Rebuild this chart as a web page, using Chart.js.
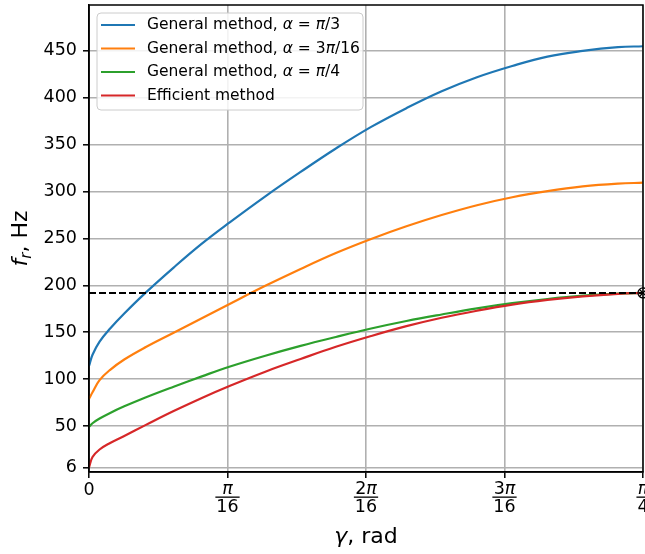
<!DOCTYPE html>
<html>
<head>
<meta charset="utf-8">
<script src="https://cdn.jsdelivr.net/npm/chart.js@4"></script>
<style>
  body { margin: 0; background: #fff; }
  #grafico { display: block; }
</style>
</head>
<body>
<canvas id="grafico" width="645" height="554" style="width:645px;height:554px"></canvas>
<script>
// datos (gamma en rad, f_r en Hz)
const gamma = [0, 0.005, 0.015, 0.03, 0.05, 0.08, 0.12, 0.16, 0.2, 0.25, 0.3, 0.35,
  0.4, 0.45, 0.5, 0.55, 0.6, 0.65, 0.7, 0.75, Math.PI / 4];
const fPi3 = [114, 126, 140, 154, 170, 192, 219, 244.5, 267.5, 295, 321, 346,
  369, 389, 407, 422, 434, 444, 450, 454, 455];
const f3Pi16 = [79, 86, 99, 110, 121, 134, 149.5, 165, 180.5, 199.5, 217.5, 234.5,
  249.5, 263, 275, 285.5, 294, 300.5, 305.5, 308.5, 309.5];
const fPi4 = [49, 53, 58, 64, 71, 80.5, 92, 103, 113.5, 125, 135.5, 145,
  154, 162, 169, 175.5, 181, 185.5, 189, 191.2, 192];
const fEficiente = [6, 17, 25, 32, 39.5, 51, 66, 80, 93, 108, 121.5, 134.5,
  146, 156.5, 165.5, 173, 179.5, 184.5, 188.3, 191, 192];
const fLimite = 192;
const yTicks = [6, 50, 100, 150, 200, 250, 300, 350, 400, 450];
const xTicksK = [0, 1, 2, 3, 4]; // multiplos de pi/16

const colores = ["#1f77b4", "#ff7f0e", "#2ca02c", "#d62728"];
const etiquetas = [
  [["General method, ", 0], ["α", 1], [" = ", 0], ["π", 1], ["/3", 0]],
  [["General method, ", 0], ["α", 1], [" = 3", 0], ["π", 1], ["/16", 0]],
  [["General method, ", 0], ["α", 1], [" = ", 0], ["π", 1], ["/4", 0]],
  [["Efficient method", 0]]
];

const FUENTE = "'DejaVu Sans'";

function puntos(vals) {
  return gamma.map((g, i) => ({ x: g, y: vals[i] }));
}

// dibuja texto con partes en cursiva / subindice
function textoMixto(ctx, partes, x, y, size, align) {
  let ancho = 0;
  partes.forEach(p => {
    const s = p[2] ? size * 0.7 : size;
    ctx.font = (p[1] ? "italic " : "") + s + "px " + FUENTE;
    ancho += ctx.measureText(p[0]).width;
  });
  let cx = align === "center" ? x - ancho / 2 : x;
  ctx.textAlign = "left";
  partes.forEach(p => {
    const s = p[2] ? size * 0.7 : size;
    ctx.font = (p[1] ? "italic " : "") + s + "px " + FUENTE;
    ctx.fillText(p[0], cx, y + (p[2] ? size * 0.25 : 0));
    cx += ctx.measureText(p[0]).width;
  });
  return ancho;
}

function sinPadding(s) {
  s.paddingTop = 0;
  s.paddingBottom = 0;
  s.paddingLeft = 0;
  s.paddingRight = 0;
}

const extras = {
  id: "extras",
  afterDatasetsDraw(chart) {
    const { ctx, chartArea: a } = chart;
    ctx.save();
    ctx.strokeStyle = "#000";
    ctx.lineWidth = 1.5;
    ctx.strokeRect(a.left, a.top, a.right - a.left, a.bottom - a.top);
    ctx.restore();
  },
  afterDraw(chart) {
    const { ctx, chartArea: a } = chart;
    const xs = chart.scales.x;
    ctx.save();
    ctx.fillStyle = "#000";
    ctx.textBaseline = "middle";

    // etiquetas del eje x como fracciones
    xTicksK.forEach(k => {
      const px = xs.getPixelForValue(k * Math.PI / 16);
      if (k === 0) {
        textoMixto(ctx, [["0", 0]], px, 490, 17.5, "center");
        return;
      }
      const num = k === 1 || k === 4 ? [["π", 1]] : [[String(k), 0], ["π", 1]];
      const den = k === 4 ? "4" : "16";
      textoMixto(ctx, num, px, 489, 17.5, "center");
      ctx.font = "17.5px " + FUENTE;
      const w = ctx.measureText(den).width;
      textoMixto(ctx, [[den, 0]], px, 507, 17.5, "center");
      ctx.fillRect(px - w / 2 - 1, 496.5, w + 2, 1.3);
    });

    // titulos de ejes
    textoMixto(ctx, [["γ", 1], [", rad", 0]], (a.left + a.right) / 2, 537, 22, "center");
    ctx.save();
    ctx.translate(21, (a.top + a.bottom) / 2);
    ctx.rotate(-Math.PI / 2);
    textoMixto(ctx, [["f", 1], ["r", 1, 1], [", Hz", 0]], 0, 0, 22, "center");
    ctx.restore();

    // leyenda
    const lx = 97, ly = 13, lw = 266, lh = 97, r = 4;
    ctx.beginPath();
    ctx.roundRect(lx, ly, lw, lh, r);
    ctx.fillStyle = "rgba(255,255,255,0.85)";
    ctx.fill();
    ctx.strokeStyle = "#cccccc";
    ctx.lineWidth = 1;
    ctx.stroke();
    etiquetas.forEach((partes, i) => {
      const cy = 25 + i * 23.5;
      ctx.strokeStyle = colores[i];
      ctx.lineWidth = 2.2;
      ctx.beginPath();
      ctx.moveTo(101, cy);
      ctx.lineTo(135, cy);
      ctx.stroke();
      ctx.fillStyle = "#000";
      textoMixto(ctx, partes, 147, cy, 15.5, "left");
    });
    ctx.restore();
  }
};

const ctx = document.getElementById("grafico").getContext("2d");

const series = [fPi3, f3Pi16, fPi4, fEficiente];
const datasets = series.map((vals, i) => ({
  label: etiquetas[i].map(p => p[0]).join(""),
  data: puntos(vals),
  borderColor: colores[i],
  borderWidth: 2.2,
  pointRadius: 0,
  tension: 0.4,
  order: 4 - i
}));

datasets.push({
  label: "limite",
  data: [{ x: 0, y: fLimite }, { x: Math.PI / 4, y: fLimite }],
  borderColor: "#000",
  borderWidth: 2,
  borderDash: [7, 3],
  pointRadius: 0,
  order: 0
});
datasets.push({
  label: "punto",
  data: [{ x: Math.PI / 4, y: fLimite }],
  showLine: false,
  pointStyle: "circle",
  pointRadius: 5,
  pointBorderWidth: 1.3,
  pointBorderColor: "#000",
  pointBackgroundColor: "rgba(0,0,0,0)",
  clip: false,
  order: 0
});
datasets.push({
  label: "cruz",
  data: [{ x: Math.PI / 4, y: fLimite }],
  showLine: false,
  pointStyle: "crossRot",
  pointRadius: 5,
  pointBorderWidth: 1.3,
  pointBorderColor: "#000",
  clip: false,
  order: 0
});

new Chart(ctx, {
  type: "line",
  data: { datasets },
  options: {
    responsive: false,
    animation: false,
    devicePixelRatio: 1,
    layout: { autoPadding: false, padding: { left: 0, right: 2, top: 5, bottom: 0 } },
    plugins: { legend: { display: false }, tooltip: { enabled: false } },
    scales: {
      x: {
        type: "linear",
        min: 0,
        max: Math.PI / 4,
        afterBuildTicks: s => { s.ticks = xTicksK.map(k => ({ value: k * Math.PI / 16 })); },
        afterFit: s => { s.height = 82; sinPadding(s); },
        ticks: { display: false },
        grid: { color: "#b0b0b0", lineWidth: 1.6, tickColor: "#000", tickLength: 6, tickWidth: 1.5 },
        border: { display: true, color: "#000", width: 1.5 }
      },
      y: {
        min: 1,
        max: 499,
        afterBuildTicks: s => { s.ticks = yTicks.map(v => ({ value: v })); },
        afterFit: s => { s.width = 89; sinPadding(s); },
        ticks: { color: "#000", padding: 6, font: { family: "DejaVu Sans", size: 17.5 } },
        grid: { color: "#b0b0b0", lineWidth: 1.6, tickColor: "#000", tickLength: 6, tickWidth: 1.5 },
        border: { display: true, color: "#000", width: 1.5 }
      }
    }
  },
  plugins: [extras]
});
</script>
</body>
</html>
